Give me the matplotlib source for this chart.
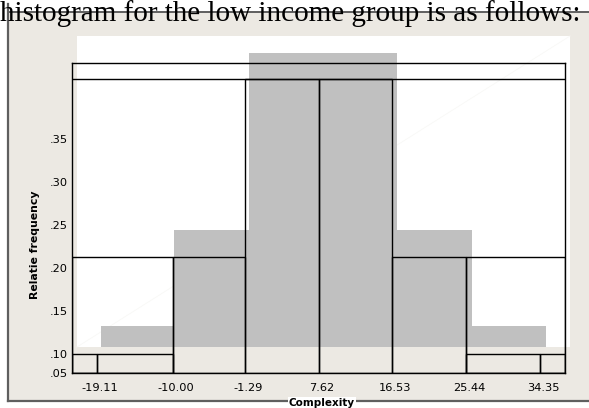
import matplotlib
matplotlib.use('Agg')
import matplotlib.pyplot as plt
import matplotlib.transforms as mtransforms
from matplotlib.patches import Rectangle

# graduations
x_ticks = [-19.11, -10.00, -1.29, 7.62, 16.53, 25.44, 34.35]
x_labels = ['-19.11', '-10.00', '-1.29', '7.62', '16.53', '25.44', '34.35']
y_ticks = [0.078, 0.10, 0.15, 0.20, 0.25, 0.30, 0.35]
y_labels = ['.05', '.10', '.15', '.20', '.25', '.30', '.35']

# histogramme gris (decale dans le scan)
gris_bords = [-18.63, -9.82, -0.77, 8.16, 17.09, 26.14, 35.07]
gris_haut = [0.133, 0.244, 0.450, 0.450, 0.244, 0.133]
gris_base = 0.108

# contours noirs
noir_gauche = [-22.13, -19.11, -22.13, -10.00, -1.29, 7.62, 16.53, 25.44, 25.44, 34.35]
noir_droite = [-19.11, -10.00, -10.00, -1.29, 7.62, 16.53, 25.44, 37.37, 34.35, 37.37]
noir_haut = [0.10, 0.10, 0.213, 0.213, 0.42, 0.42, 0.213, 0.213, 0.10, 0.10]
bande = 0.42

xmin, xmax = -22.13, 37.37
ymin, ymax = 0.078, 0.438

W, H = 589, 408
fig = plt.figure(figsize=(W / 100, H / 100), dpi=100, facecolor='white')

# fond en pixels
bg = fig.add_axes([0, 0, 1, 1], zorder=0)
bg.set_xlim(0, W)
bg.set_ylim(H, 0)
bg.axis('off')
bg.add_patch(Rectangle((8, 12), W - 8, 389, facecolor='#ECE9E3', edgecolor='none'))
bg.add_patch(Rectangle((77, 36), 493, 311, facecolor='white', edgecolor='none'))
bg.plot([77, 570], [347, 36], color='#F8F8F6', lw=0.6)
bg.plot([8, W], [12, 12], color='#5f5f5f', lw=1.4)
bg.plot([8, 8], [4, 401], color='#5f5f5f', lw=1.6)
bg.plot([8, W], [401, 401], color='#5f5f5f', lw=1.6)
bg.text(-0.5, 21, 'histogram for the low income group is as follows:',
        family='Liberation Serif', fontsize=21, va='baseline', ha='left', zorder=5)
bg.text(35, 245, 'Relatie frequency', rotation=90, fontsize=7.8, fontweight='bold',
        ha='center', va='center')
bg.text(322, 398, 'Complexity', fontsize=7.5, fontweight='bold', ha='center', va='top',
        bbox=dict(facecolor='white', edgecolor='none', pad=0.5))

# axes principaux
ax = fig.add_axes([72 / W, (H - 373) / H, 493 / W, 310 / H], zorder=1)
ax.set_facecolor('none')
ax.set_xlim(xmin, xmax)
ax.set_ylim(ymin, ymax)

largeurs = [gris_bords[i + 1] - gris_bords[i] for i in range(len(gris_haut))]
hauteurs = [h - gris_base for h in gris_haut]
ax.bar(gris_bords[:-1], hauteurs, width=largeurs, bottom=gris_base, align='edge',
       color='#C0C0C0', linewidth=0, clip_on=False, zorder=1)

largeurs_n = [d - g for g, d in zip(noir_gauche, noir_droite)]
hauteurs_n = [h - ymin for h in noir_haut]
ax.bar(noir_gauche, hauteurs_n, width=largeurs_n, bottom=ymin, align='edge',
       fill=False, edgecolor='black', linewidth=1.0, zorder=3)
ax.axhline(bande, color='black', lw=1.0, zorder=3)

for s in ax.spines.values():
    s.set_linewidth(1.0)
    s.set_zorder(4)

ax.set_xticks(x_ticks)
ax.set_xticklabels(x_labels)
ax.set_yticks(y_ticks)
ax.set_yticklabels(y_labels)
ax.tick_params(length=0, labelsize=8.2, colors='black')
ax.tick_params(axis='x', pad=7)
ax.tick_params(axis='y', pad=3)
decal = mtransforms.ScaledTranslation(3 / 100, 0, fig.dpi_scale_trans)
for lab in ax.get_xticklabels():
    lab.set_transform(lab.get_transform() + decal)

fig.savefig('out.png', dpi=100)
